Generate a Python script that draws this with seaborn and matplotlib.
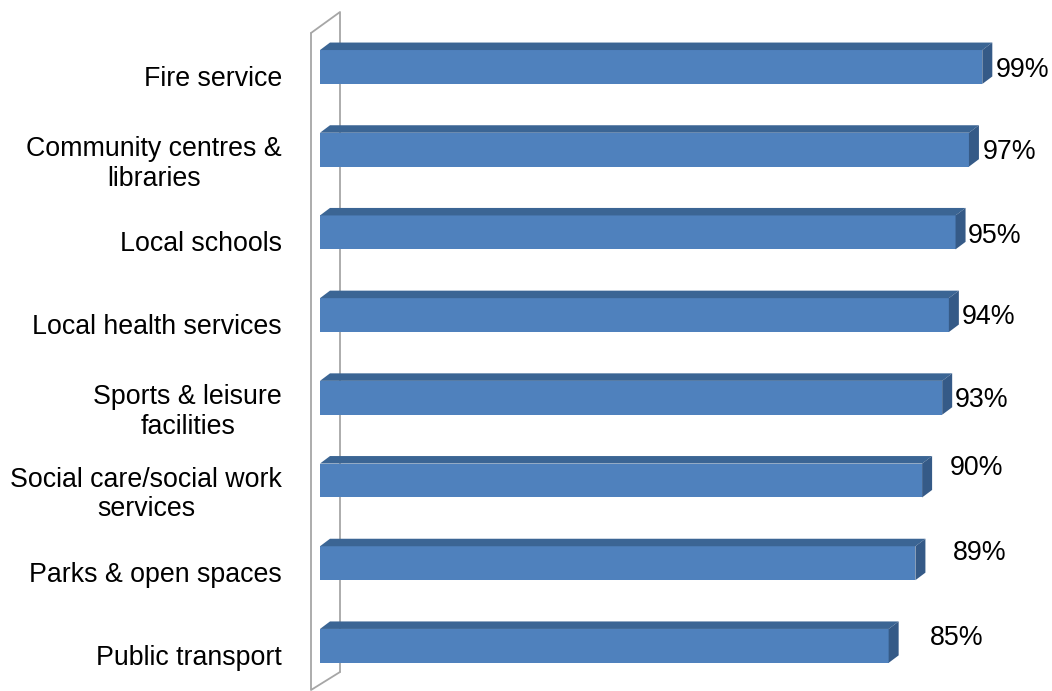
import matplotlib
matplotlib.use("Agg")
import matplotlib.pyplot as plt
from matplotlib.patches import Polygon
from matplotlib.transforms import ScaledTranslation
import seaborn as sns
import pandas as pd

# Satisfaction with local services (percent)
categories = [
    "Fire service",
    "Community centres &\nlibraries",
    "Local schools",
    "Local health services",
    "Sports & leisure\nfacilities",
    "Social care/social work\nservices",
    "Parks & open spaces",
    "Public transport",
]
values = [99, 97, 95, 94, 93, 90, 89, 85]
value_labels = ["99%", "97%", "95%", "94%", "93%", "90%", "89%", "85%"]

# label nudges (pixels) away from the bar end / bar centre
label_dx_px = [13, 14, 12, 13, 13, 28, 37, 41]
label_dy_px = [3, 2, 4, 2, 2, -13, -10, -8]

FRONT = "#4F81BD"
TOP = "#3B6594"
SIDE = "#355A87"
WALL = "#A6A6A6"

sns.set_style("white")
plt.rcParams["font.family"] = ["Liberation Sans", "DejaVu Sans"]

W, H = 1052, 691
fig = plt.figure(figsize=(W / 100, H / 100), dpi=100)

x0_px = 320          # where the value axis starts
ppu = 6.69           # pixels per percentage point
row_px = 82.7        # pixels between bar centres
first_px = 67        # centre of first bar

ax = fig.add_axes([x0_px / W, 0, 1 - x0_px / W, 1])
df = pd.DataFrame({"service": categories, "pct": values})
sns.barplot(data=df, x="pct", y="service", orient="h", width=0.41,
            color=FRONT, saturation=1, edgecolor="none", ax=ax, zorder=3)

ax.set_xlim(0, (W - x0_px) / ppu)
ax.set_ylim((H - first_px) / row_px, -first_px / row_px)

# 3-D depth of each bar
dx = 10 / ppu
dy = 7.5 / row_px

# back wall (thin slab behind the bars)
wx_front, wx_back = -9 / ppu, 20 / ppu
w_top_front, w_top_back = (33 - first_px) / row_px, (12 - first_px) / row_px
w_bot_front, w_bot_back = (690 - first_px) / row_px, (672 - first_px) / row_px
ax.plot([wx_front, wx_back, wx_back], [w_top_front, w_top_back, w_bot_back],
        color=WALL, lw=1.3, clip_on=False, zorder=1)
ax.plot([wx_front, wx_front, wx_back], [w_top_front, w_bot_front, w_bot_back],
        color=WALL, lw=1.3, clip_on=False, zorder=1)

bars = [p for p in ax.patches]
for i, p in enumerate(bars):
    x1 = p.get_x() + p.get_width()
    yt = p.get_y()
    yb = p.get_y() + p.get_height()
    top = Polygon([(p.get_x(), yt), (p.get_x() + dx, yt - dy), (x1 + dx, yt - dy), (x1, yt)],
                  closed=True, facecolor=TOP, edgecolor="none", zorder=3, clip_on=False)
    side = Polygon([(x1, yt), (x1 + dx, yt - dy), (x1 + dx, yb - dy), (x1, yb)],
                   closed=True, facecolor=SIDE, edgecolor="none", zorder=3, clip_on=False)
    ax.add_patch(top)
    ax.add_patch(side)
    yc = yt + p.get_height() / 2
    ax.text(x1 + label_dx_px[i] / ppu, yc + label_dy_px[i] / row_px, value_labels[i],
            ha="left", va="center", fontsize=19.3, color="black", zorder=4)

for s in ax.spines.values():
    s.set_visible(False)
ax.set_xticks([])
ax.set_xlabel("")
ax.set_ylabel("")
ax.tick_params(axis="y", length=0, pad=27.4, labelsize=19.3, labelcolor="black")
for lab in ax.get_yticklabels():
    lab.set_multialignment("center")
    lab.set_transform(lab.get_transform() + ScaledTranslation(0, -9 / 100, fig.dpi_scale_trans))
ax.patch.set_alpha(0)

fig.savefig("out.png", dpi=100, facecolor="white")
